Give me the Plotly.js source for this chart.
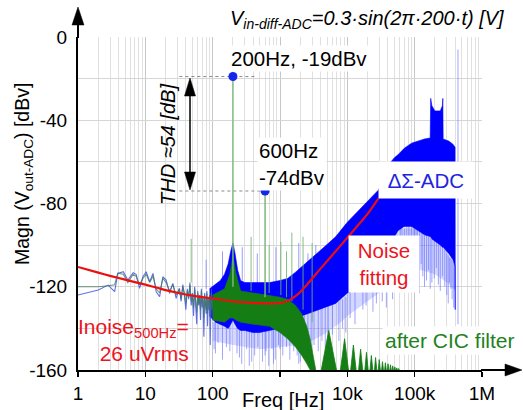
<!DOCTYPE html>
<html><head><meta charset="utf-8">
<script src="https://cdn.plot.ly/plotly-3.0.1.min.js"></script>
<style>html,body{margin:0;padding:0;background:#fff;overflow:hidden}#chart{width:523px;height:410px}</style>
</head><body><div id="chart"></div>
<script>
// ---------- axis ticks ----------
const tickFreq = [1, 10, 100, 1000, 10000, 100000, 1000000];
const tickText = ['1', '10', '100', '', '10k', '100k', '1M'];
const yTickVals = [-160, -140, -120, -100, -80, -60, -40, -20, 0];
const yTickText = ['-160', '', '-120', '', '-80', '', '-40', '', '0'];

// ---------- low-frequency spectrum lines (1-100 Hz) ----------
const lowFreq = [1,2,2.8,3.5,3.9,4.7,5.5,6.6,7.3,8.2,9.2,10.3,11.6,13,14.5,16.3,18.2,20.4,22.9,25.6,28.7,32,34,36,38,40,42,44,46,48,50,52,54,56,58,60,62,64,66,68,70,72,74,76,78,80,82,84,86,88,90,92,94,96,98,100];
const blueLowDb = [-124,-121.6,-119.2,-122.4,-113.6,-112.8,-116.8,-113.2,-114,-120.8,-115.2,-112.8,-117.6,-113.6,-122.4,-124.8,-115.2,-116.8,-123.2,-118.4,-125.6,-120.8,-127,-119,-124,-131,-121,-126,-118,-129,-123,-134,-120,-127,-138,-122,-129,-124,-136,-121,-130,-125,-144,-123,-128,-133,-122,-139,-126,-131,-124,-148,-127,-121,-135,-126];
const greenLowDb = [-120,-120,-119.5,-119,-113.5,-114,-118,-114,-115,-119,-116,-114,-118,-115,-121,-123,-116,-118,-122,-119,-124,-121,-126,-120,-123,-128,-122,-125,-119,-127,-124,-130,-121,-126,-132,-123,-128,-125,-131,-122,-128,-126,-135,-124,-127,-131,-123,-133,-126,-129,-125,-134,-127,-123,-131,-126];

// ---------- dense ΔΣ-ADC band (upper / lower envelope) ----------
const bandFreq = [90,110,130,150,170,185,200,215,235,260,300,400,500,700,1000,1300,1700,2100,3000,4500,6700,10000,15000,20000,29000,35000,43000,50000,57000,70000,90000,113000,140000,170000,173000,180000,200000,240000,258000,262000,265000,320000,370000,398000,400000];
const bandHi = [-121,-119,-117,-114,-109,-103,-99,-104,-112,-117,-118,-118,-118,-118,-117,-116,-113,-110.5,-106,-101,-96,-89,-83,-79,-73.5,-67,-60.5,-58,-56.5,-53.5,-51,-50,-49,-48.5,-29.5,-33,-35.5,-35.5,-33,-29.5,-49,-50,-51.5,-53,-130];
const bandLo = [-134,-137,-138,-139,-140,-138,-136,-138,-140,-141,-141,-142,-142,-141,-140,-138,-136,-134,-132,-130,-128,-123,-120,-116,-110,-106,-100,-96,-93,-91,-91,-93,-95,-96,-96,-97,-98,-100,-101,-101,-101,-104,-107,-110,-131];

// ---------- sparse zone below the dense band ----------
const lightFreq = [100,200,500,1000,2000,3000,5000,8000,10000,20000,40000,60000,100000,200000,300000,398000];
const lightHi = [-137,-136,-142,-140,-135,-132,-129,-126,-123,-116,-101,-92,-92,-98,-103,-110];
const lightLo = [-146,-148,-150,-149,-148,-146,-142,-137,-134,-127,-120,-113,-111,-114,-118,-122];

// ---------- sparse downward spikes of the ΔΣ-ADC spectrum ----------
const spikeFreq = [105,120,140,160,230,270,320,350,420,470,550,620,680,760,850,950,1100,1250,1400,1600,1900,2300,2600,3200,3700,4200,5200,6000,7500,8500,11000,13000,17000,19000,24000,27000,33000,38000,47000,55000,65000,70000,80000,90000,100000,110000,125000,140000,160000,180000,210000,240000,260000,300000,330000,360000,395000,440000,
  110,180,250,380,600,800,1000,1800,2000,2900,4700,9500,62000,75000,85000,95000,105000,118000,132000,150000,170000,195000,225000,280000,315000,345000,380000];
const spikeTop = [-137,-138,-139,-139,-139,-140,-141,-141,-141,-142,-142,-141,-141,-141,-140,-140,-139,-138,-137,-136,-135,-133,-133,-132,-131,-130,-129,-128,-127,-126,-122,-121,-118,-116,-113,-111,-108,-105,-99,-95,-92,-92,-91,-91,-92,-93,-94,-95,-96,-97,-98,-100,-101,-104,-106,-107,-109,-6,
  -137,-138,-140,-141,-141,-141,-140,-135,-134,-132,-130,-125,-92,-91,-91,-91,-92,-93,-94,-95,-96,-97,-99,-102,-105,-106,-108];
const spikeBot = [-150,-147,-155,-149,-152,-157,-150,-158,-153,-149,-156,-151,-158,-150,-155,-148,-153,-149,-155,-151,-157,-150,-154,-148,-151,-146,-149,-143,-146,-140,-135,-138,-131,-129,-132,-128,-127,-130,-126,-122,-118,-112,-110,-116,-108,-113,-109,-120,-112,-118,-111,-122,-115,-124,-118,-126,-121,-138,
  -152,-151,-154,-156,-153,-157,-150,-153,-156,-152,-150,-142,-120,-117,-121,-114,-119,-123,-115,-117,-121,-116,-119,-120,-128,-121,-130];

// ---------- upward spurs ----------
const blueSpurFreq = [80,140,275,460,870,1900,2600,3400];
const blueSpurTop = [-107,-103,-101,-104,-101,-99,-104,-100];
const blueSpurBot = [-121,-118,-117,-118,-118,-112,-110,-106];
const greenSpurFreq = [48,372,690,1030,1250,1500,2200,3000];
const greenSpurTop = [-97,-96,-100,-98.5,-103,-94,-96,-99];
const greenSpurBot = [-118,-122,-123,-124,-125,-127,-131,-137];

// ---------- after CIC filter ----------
const greenFreq = [100,150,180,200,220,260,400,700,1000,1300,1700,2100,2500,2800,3100,3400];
const greenHi = [-124,-121,-114,-105,-113,-122,-123,-124,-125,-126,-129,-133,-139,-145,-153,-160];
const greenLo = [-136,-137,-135,-135,-136,-137,-138,-139,-142,-145,-149,-153,-157,-160,-160,-160];
const lobePeakFreq = [5300,9100,12300,15750,19250,22750,26250,29750,33250,36750,40250,43750,47250,50750,54250,57750];
const lobeTop = [-141,-145,-148,-150,-151.5,-153,-154,-155,-156,-156.5,-157,-157.5,-158,-158.5,-159,-159.3];
const lobeLeftFreq = [4100,7900,11200,14700,18200,21700,25300,28800,32300,35800,39300,42800,46300,49800,53300,56800];
const lobeRightFreq = [6900,10400,13500,16900,20400,23900,27400,30900,34400,37900,41400,44900,48400,51900,55400,58900];
const cicFloor = -160;

// ---------- noise fitting ----------
const fitFreq = [1,2,3,5,7,10,15,20,30,50,70,100,150,200,300,500,800,1000,1200,1400,1700,2000,2700,4000,6000,10000,15000,20000,29000];
const fitDb = [-110.5,-113.2,-114.8,-116.6,-117.8,-119,-120.5,-121.6,-122.9,-124.3,-125,-125.6,-126.4,-127,-127.5,-127.9,-128,-127.8,-127.2,-126.3,-124.5,-122.5,-117.8,-111.3,-104.7,-96.5,-89.8,-85,-77.5];

// ---------- tones ----------
const toneFreq = [200, 600];
const toneDb = [-19, -74];
const toneBase = [-120, -125];
const refLineStart = 32;
const refLineEnd = [450, 600];

// ================= build =================
const FONT = '"Liberation Sans", Arial, sans-serif';
const L = 78, T = 37, W = 404, H = 333;
const PX = x => (x - L) / W, PY = y => (T + H - y) / H;

function segs(fs, tops, bots) {
  const x = [], y = [];
  fs.forEach((f, i) => { x.push(f, f, null); y.push(bots[i], tops[i], null); });
  return {x, y};
}
function poly(fs, hi, lo) {
  return {x: fs.concat(fs.slice().reverse()), y: hi.concat(lo.slice().reverse())};
}
const base = {type: 'scatter', hoverinfo: 'skip', showlegend: false};
const traces = [];

const lp = poly(lightFreq, lightHi, lightLo);
traces.push(Object.assign({}, base, {x: lp.x, y: lp.y, mode: 'lines', fill: 'toself', fillcolor: 'rgba(100,110,255,0.28)', line: {width: 0}}));
const sp = segs(spikeFreq, spikeTop, spikeBot);
traces.push(Object.assign({}, base, {x: sp.x, y: sp.y, mode: 'lines', line: {color: 'rgba(95,105,255,0.6)', width: 1}}));
const bs = segs(blueSpurFreq, blueSpurTop, blueSpurBot);
traces.push(Object.assign({}, base, {x: bs.x, y: bs.y, mode: 'lines', line: {color: 'rgba(95,105,255,0.65)', width: 1}}));
const bp = poly(bandFreq, bandHi, bandLo);
traces.push(Object.assign({}, base, {x: bp.x, y: bp.y, mode: 'lines', fill: 'toself', fillcolor: 'rgb(0,0,255)', line: {color: 'rgb(0,0,255)', width: 0.6}}));
traces.push(Object.assign({}, base, {x: lowFreq, y: blueLowDb, mode: 'lines', line: {color: 'rgba(55,75,225,0.8)', width: 1.1}}));
traces.push(Object.assign({}, base, {x: lowFreq, y: greenLowDb, mode: 'lines', line: {color: 'rgba(60,120,90,0.75)', width: 1.1}}));
const gp = poly(greenFreq, greenHi, greenLo);
traces.push(Object.assign({}, base, {x: gp.x, y: gp.y, mode: 'lines', fill: 'toself', fillcolor: 'rgb(20,125,20)', line: {color: 'rgb(20,125,20)', width: 0.6}}));
const lx = [], ly = [];
lobePeakFreq.forEach((f, i) => { lx.push(lobeLeftFreq[i], f, lobeRightFreq[i], null); ly.push(cicFloor, lobeTop[i], cicFloor, null); });
traces.push(Object.assign({}, base, {x: lx, y: ly, mode: 'lines', fill: 'toself', fillcolor: 'rgb(20,125,20)', line: {color: 'rgb(20,125,20)', width: 0.8}}));
const gs = segs(greenSpurFreq, greenSpurTop, greenSpurBot);
traces.push(Object.assign({}, base, {x: gs.x, y: gs.y, mode: 'lines', line: {color: 'rgba(110,180,110,0.85)', width: 1}}));
const ts = segs(toneFreq, toneDb, toneBase);
traces.push(Object.assign({}, base, {x: ts.x, y: ts.y, mode: 'lines', line: {color: 'rgba(125,185,125,0.9)', width: 1.6}}));
toneFreq.forEach((f, i) => {
  traces.push(Object.assign({}, base, {x: [refLineStart, refLineEnd[i]], y: [toneDb[i], toneDb[i]], mode: 'lines', line: {color: '#8a8a8a', width: 1, dash: 'dot'}}));
});
traces.push(Object.assign({}, base, {x: fitFreq, y: fitDb, mode: 'lines', line: {color: 'rgb(235,15,15)', width: 2.2, shape: 'spline', smoothing: 0.6}}));
traces.push(Object.assign({}, base, {x: toneFreq, y: toneDb, mode: 'markers', marker: {color: 'rgb(20,40,235)', size: 9}}));

const A = (x, y, text, opt) => Object.assign({xref: 'paper', yref: 'paper', x: PX(x), y: PY(y), text, showarrow: false,
  xanchor: 'center', yanchor: 'middle', font: {family: FONT, size: 20, color: '#000'}}, opt || {});
const annotations = [
  A(506, 19, '<i>V<sub>in-diff-ADC</sub>=0.3·sin(2π·200·t) [V]</i>', {xanchor: 'right', font: {family: FONT, size: 20, color: '#000'}}),
  A(229, 59, '200Hz, -19dBv', {xanchor: 'left', bgcolor: 'white', borderpad: 1, font: {family: FONT, size: 20.5, color: '#000'}}),
  A(257, 164, '600Hz<br>-74dBv', {xanchor: 'left', align: 'left', bgcolor: 'white', borderpad: 1, font: {family: FONT, size: 20.5, color: '#000'}}),
  A(168, 145, '<i>THD ≈54 [dB]</i>', {textangle: -90, font: {family: FONT, size: 20, color: '#000'}}),
  A(23, 174, 'Magn (V<sub>out-ADC</sub>) [dBv]', {textangle: -90, font: {family: FONT, size: 19.5, color: '#000'}}),
  A(283, 400, 'Freq [Hz]', {bgcolor: 'white', borderpad: 1, font: {family: FONT, size: 20, color: '#000'}}),
  A(384, 264, 'Noise<br>fitting', {bgcolor: 'white', width: 68, height: 54, font: {family: FONT, size: 20.5, color: 'rgb(235,20,30)'}}),
  A(191, 340, 'Inoise<sub>500Hz</sub>=<br>26 uVrms', {xanchor: 'right', align: 'right', font: {family: FONT, size: 21, color: 'rgb(235,20,30)'}}),
  A(450, 340, 'after CIC filter', {bgcolor: 'white', borderpad: 2, font: {family: FONT, size: 21, color: 'rgb(30,130,30)'}}),
  A(426, 180, 'ΔΣ-ADC', {bgcolor: 'white', width: 92, height: 34, font: {family: FONT, size: 20.5, color: 'rgb(35,35,225)'}})
];

function line(x0, y0, x1, y1, w) {
  return {type: 'line', xref: 'paper', yref: 'paper', x0: PX(x0), y0: PY(y0), x1: PX(x1), y1: PY(y1), line: {color: '#000', width: w}};
}
function head(pts) {
  const d = 'M' + pts.map(p => PX(p[0]) + ',' + PY(p[1])).join(' L') + ' Z';
  return {type: 'path', xref: 'paper', yref: 'paper', path: d, fillcolor: '#000', line: {color: '#000', width: 0.5}};
}
const shapes = [
  line(78, 38, 78, 22, 2), head([[72, 25], [78, 7], [84, 25]]),
  line(481, 370, 508, 370, 2), head([[505, 364], [522, 370], [505, 376]]),
  line(190, 92, 190, 176, 1.5), head([[184.5, 96], [190, 78], [195.5, 96]]), head([[184.5, 172], [190, 190], [195.5, 172]])
];

const layout = {
  width: 523, height: 410,
  margin: {l: L, r: 523 - L - W, t: T, b: 410 - T - H, pad: 0},
  paper_bgcolor: '#fff', plot_bgcolor: '#fff',
  font: {family: FONT, size: 19, color: '#000'},
  showlegend: false,
  xaxis: {type: 'log', range: [0, 6], tickmode: 'array', tickvals: tickFreq, ticktext: tickText,
    showgrid: true, gridcolor: '#c6c6c6', gridwidth: 1, zeroline: false,
    showline: true, linecolor: '#000', linewidth: 2, ticks: 'outside', ticklen: 5, tickwidth: 1.5, tickcolor: '#000',
    tickfont: {family: FONT, size: 19, color: '#000'},
    minor: {dtick: 'D1', showgrid: true, gridcolor: '#e0e0e0', gridwidth: 1, ticks: ''}},
  yaxis: {range: [-160, 0], tickmode: 'array', tickvals: yTickVals, ticktext: yTickText,
    showgrid: true, gridcolor: '#d6d6d6', gridwidth: 1, zeroline: false,
    showline: true, linecolor: '#000', linewidth: 2, ticks: '', ticklabelstandoff: 5,
    tickfont: {family: FONT, size: 19, color: '#000'}},
  annotations, shapes
};
Plotly.newPlot('chart', traces, layout, {staticPlot: true, displayModeBar: false});
</script></body></html>
